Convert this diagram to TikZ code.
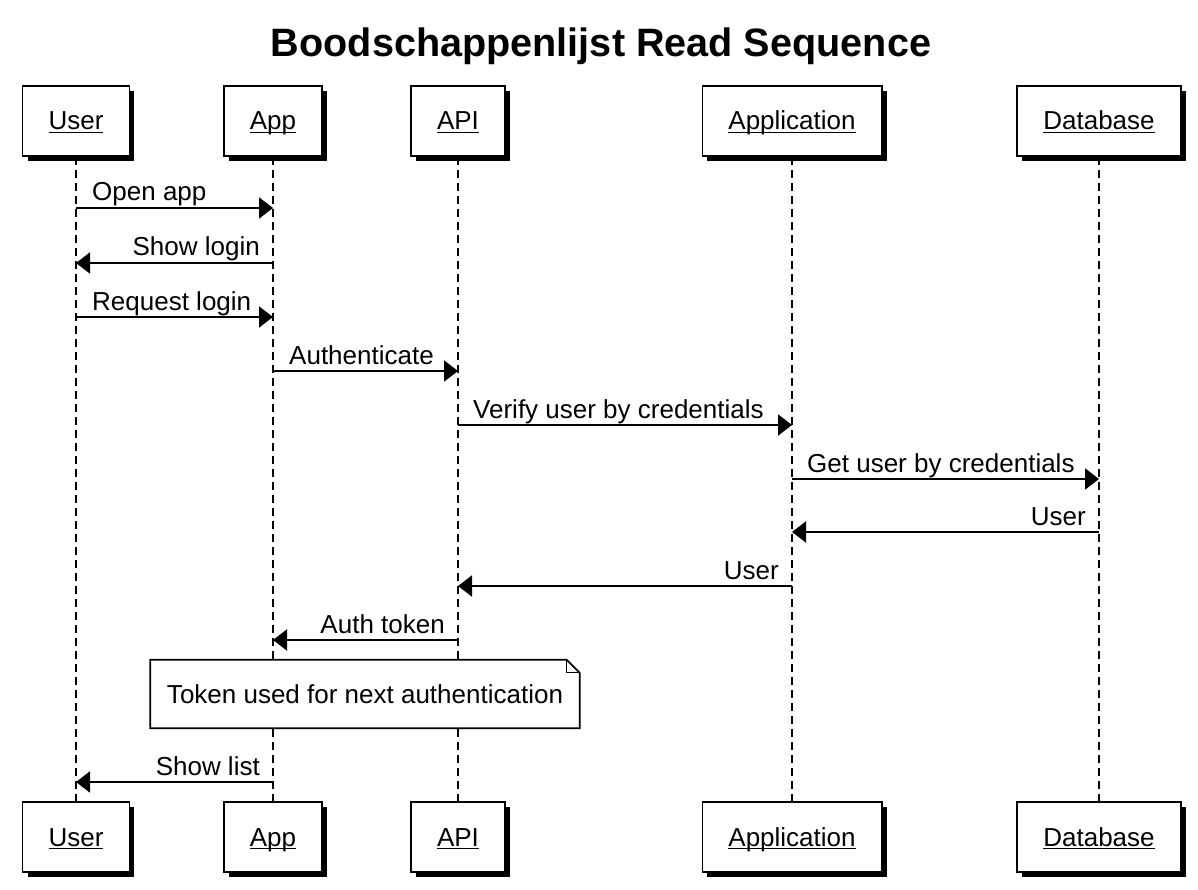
\documentclass[tikz,border=0pt]{standalone}
\usepackage{fontspec}
\setmainfont{Liberation Sans}
\usetikzlibrary{arrows.meta,shadows}
\newcommand{\msgfont}{\fontsize{26}{30}\selectfont}
\newcommand{\titlefont}{\fontsize{39.6}{46}\selectfont\bfseries}
\newcommand{\ulword}[1]{\setbox0\hbox{#1}\rlap{\rule[-3.2pt]{\wd0}{1.4pt}}\box0}
\begin{document}
\begin{tikzpicture}[x=1pt,y=-1pt]
\tikzset{
  actor/.style={draw, line width=1.8pt, fill=white, minimum height=70pt, inner xsep=26pt, font=\msgfont,
    text height=22pt, text depth=4pt,
    drop shadow={shadow xshift=5pt, shadow yshift=-5pt, fill=black, opacity=1}},
  life/.style={line width=1.8pt, dash pattern=on 8pt off 5pt},
  msg/.style={line width=2pt, -{Triangle[length=14pt,width=21pt]}},
  lbl/.style={font=\msgfont, inner sep=0pt},
  notebox/.style={fill=white, font=\msgfont, minimum width=429pt, minimum height=68pt, inner sep=0pt},
}
\useasboundingbox (0,0) rectangle (1198,890);
\fill[white] (0,0) rectangle (1198,890);

\node[font=\titlefont, anchor=base] (title) at (601,57) {Boodschappenlijst Read Sequence};

% top actors
\node[actor] (userT) at (76,121) {\ulword{User}};
\node[actor] (appT) at (273,121) {\ulword{App}};
\node[actor] (apiT) at (458,121) {\ulword{API}};
\node[actor] (applT) at (792,121) {\ulword{Application}};
\node[actor] (dbT) at (1099,121) {\ulword{Database}};
% bottom actors
\node[actor] (userB) at (76,837) {\ulword{User}};
\node[actor] (appB) at (273,837) {\ulword{App}};
\node[actor] (apiB) at (458,837) {\ulword{API}};
\node[actor] (applB) at (792,837) {\ulword{Application}};
\node[actor] (dbB) at (1099,837) {\ulword{Database}};

% lifelines
\draw[life] (userT) -- (userB);
\draw[life] (appT) -- (appB);
\draw[life] (apiT) -- (apiB);
\draw[life] (applT) -- (applB);
\draw[life] (dbT) -- (dbB);
% redraw boxes over lifelines
\node[actor] at (userT) {\ulword{User}};
\node[actor] at (appT) {\ulword{App}};
\node[actor] at (apiT) {\ulword{API}};
\node[actor] at (applT) {\ulword{Application}};
\node[actor] at (dbT) {\ulword{Database}};
\node[actor] at (userB) {\ulword{User}};
\node[actor] at (appB) {\ulword{App}};
\node[actor] at (apiB) {\ulword{API}};
\node[actor] at (applB) {\ulword{Application}};
\node[actor] at (dbB) {\ulword{Database}};

% message rows
\coordinate (m1) at (0,208);
\coordinate (m2) at (0,263);
\coordinate (m3) at (0,317);
\coordinate (m4) at (0,371);
\coordinate (m5) at (0,425);
\coordinate (m6) at (0,479);
\coordinate (m7) at (0,532);
\coordinate (m8) at (0,586);
\coordinate (m9) at (0,640);
\coordinate (m11) at (0,782);

\draw[msg] (userT |- m1) -- (appT |- m1);
\node[lbl, anchor=base west] (t1) at ([xshift=16pt,yshift=7pt]userT |- m1) {Open app};

\draw[msg] (appT |- m2) -- (userT |- m2);
\node[lbl, anchor=base east] (t2) at ([xshift=-13pt,yshift=7pt]appT |- m2) {Show login};

\draw[msg] (userT |- m3) -- (appT |- m3);
\node[lbl, anchor=base west] (t3) at ([xshift=16pt,yshift=7pt]userT |- m3) {Request login};

\draw[msg] (appT |- m4) -- (apiT |- m4);
\node[lbl, anchor=base west] (t4) at ([xshift=16pt,yshift=7pt]appT |- m4) {Authenticate};

\draw[msg] (apiT |- m5) -- (applT |- m5);
\node[lbl, anchor=base west] (t5) at ([xshift=15pt,yshift=7pt]apiT |- m5) {Verify user by credentials};

\draw[msg] (applT |- m6) -- (dbT |- m6);
\node[lbl, anchor=base west] (t6) at ([xshift=15pt,yshift=7pt]applT |- m6) {Get user by credentials};

\draw[msg] (dbT |- m7) -- (applT |- m7);
\node[lbl, anchor=base east] (t7) at ([xshift=-13pt,yshift=7pt]dbT |- m7) {User};

\draw[msg] (applT |- m8) -- (apiT |- m8);
\node[lbl, anchor=base east] (t8) at ([xshift=-13pt,yshift=7pt]applT |- m8) {User};

\draw[msg] (apiT |- m9) -- (appT |- m9);
\node[lbl, anchor=base east] (t9) at ([xshift=-13pt,yshift=7pt]apiT |- m9) {Auth token};

% note
\node[notebox] (note) at (365,694) {Token used for next authentication};
\draw[line width=1.8pt] (note.south west) -- (note.north west) -- ([xshift=-13pt]note.north east)
  -- ([yshift=-13pt]note.north east) -- (note.south east) -- cycle;
\draw[line width=0.8pt] ([xshift=-13pt]note.north east) -- ([xshift=-13pt,yshift=-13pt]note.north east)
  -- ([yshift=-13pt]note.north east);

\draw[msg] (appT |- m11) -- (userT |- m11);
\node[lbl, anchor=base east] (t11) at ([xshift=-13pt,yshift=7pt]appT |- m11) {Show list};
\end{tikzpicture}
\end{document}
